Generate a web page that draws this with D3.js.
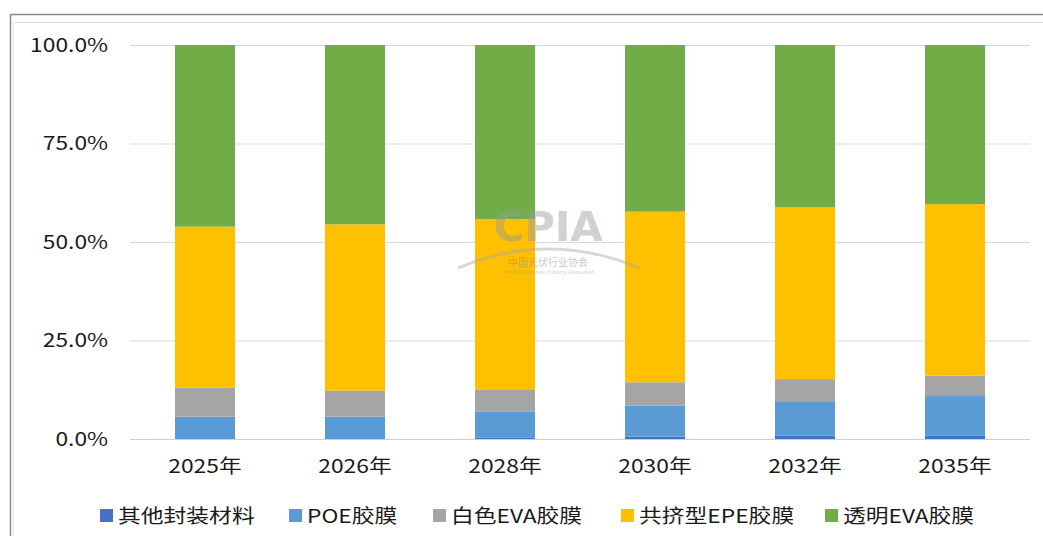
<!DOCTYPE html>
<html><head><meta charset="utf-8">
<script src="https://cdn.jsdelivr.net/npm/d3@7"></script>
<style>body{margin:0;background:#fff;}svg{display:block;}</style>
</head><body>
<script>
const categories = ["2025年","2026年","2028年","2030年","2032年","2035年"];
const seriesNames = ["其他封装材料","POE胶膜","白色EVA胶膜","共挤型EPE胶膜","透明EVA胶膜"];
const other       = [0.0, 0.0, 0.3, 0.6, 0.9, 0.8];
const poe         = [5.7, 5.7, 6.6, 7.9, 8.7, 10.1];
const whiteEva    = [7.3, 6.6, 5.7, 5.9, 5.6, 5.2];
const epe         = [40.9, 42.2, 43.2, 43.3, 43.6, 43.5];
const clearEva    = [46.1, 45.5, 44.2, 42.3, 41.2, 40.4];
const yTicks      = [0, 25, 50, 75, 100];
const colors      = ["#4472C4","#5B9BD5","#A5A5A5","#FFC000","#70AD47"];

const W = 1043, H = 536;
const margin = {left:130, right:13, top:45, bottom:97};
const SX = 1.2; // horizontal stretch of text as in the reference
const FONT = "'Noto Sans CJK SC','Noto Sans',sans-serif";
const svg = d3.select("body").append("svg").attr("width",W).attr("height",H);

// frame
svg.append("rect").attr("x",10.5).attr("y",14.5).attr("width",1100).attr("height",600)
  .attr("fill","none").attr("stroke","#8a8a8a").attr("stroke-width",1.5);
svg.append("line").attr("x1",13).attr("x2",W).attr("y1",22.5).attr("y2",22.5).attr("stroke","#dcdcdc");
svg.append("line").attr("x1",13.5).attr("x2",13.5).attr("y1",22).attr("y2",H).attr("stroke","#e4e4e4");

const x = d3.scaleBand().domain(categories).range([margin.left, W-margin.right]).paddingInner(0.6).paddingOuter(0.3);
const y = d3.scaleLinear().domain([0,100]).range([H-margin.bottom, margin.top]);

const rows = categories.map((c,i)=>({cat:c, s0:other[i], s1:poe[i], s2:whiteEva[i], s3:epe[i], s4:clearEva[i]}));
const stack = d3.stack().keys(["s0","s1","s2","s3","s4"])(rows);

// gridlines + y labels
const yAxis = d3.axisLeft(y).tickValues(yTicks).tickSize(-(W-margin.right-margin.left)).tickFormat(d=>d.toFixed(1)+"%");
const gy = svg.append("g").attr("transform",`translate(${margin.left},0)`).call(yAxis);
gy.select(".domain").remove();
gy.selectAll(".tick line").attr("stroke","#d9d9d9");
gy.selectAll(".tick text").attr("x",-22/SX).attr("fill","#1a1a1a")
  .style("font-family",FONT).style("font-size","19px")
  .attr("transform",`scale(${SX},1)`).attr("text-anchor","end");

svg.append("g").selectAll("g").data(stack).join("g").attr("fill",(d,i)=>colors[i])
  .selectAll("rect").data(d=>d).join("rect")
  .attr("x",d=>x(d.data.cat)).attr("width",x.bandwidth())
  .attr("y",d=>y(d[1])).attr("height",d=>y(d[0])-y(d[1]));

// baseline
svg.append("line").attr("x1",margin.left).attr("x2",W-margin.right).attr("y1",y(0)+0.5).attr("y2",y(0)+0.5).attr("stroke","#cfcfcf");

const xAxis = d3.axisBottom(x).tickSize(0).tickPadding(21);
const gx = svg.append("g").attr("transform",`translate(0,${y(0)})`).call(xAxis);
gx.select(".domain").remove();
gx.selectAll(".tick text").attr("fill","#1a1a1a").attr("transform",`scale(${SX},1)`)
  .style("font-family",FONT).style("font-size","19px");

// watermark
const wm = svg.append("g").attr("opacity",0.45).attr("pointer-events","none");
wm.append("text").attr("x",0).attr("y",0).attr("text-anchor","middle")
  .attr("transform","translate(548,241) scale(1.05,1)")
  .style("font-family","'DejaVu Sans',sans-serif").style("font-weight","bold").style("font-size","40px")
  .attr("fill","#9a9a9a").text("CPIA");
wm.append("path").attr("d","M458,268 Q548,230 640,268").attr("fill","none").attr("stroke","#a8a8a8").attr("stroke-width",3);
wm.append("text").attr("x",548).attr("y",266).attr("text-anchor","middle")
  .style("font-family",FONT).style("font-size","10px").attr("fill","#888").text("中国光伏行业协会");
wm.append("text").attr("x",548).attr("y",274).attr("text-anchor","middle")
  .style("font-family","'Noto Sans',sans-serif").style("font-size","5px").attr("fill","#999").text("China Photovoltaic Industry Association");

// legend
const legX = [100, 289, 433, 621, 825];
const lg = svg.append("g");
seriesNames.forEach((n,i)=>{
  const g = lg.append("g").attr("transform",`translate(${legX[i]},516)`);
  g.append("rect").attr("x",0).attr("y",-7).attr("width",13).attr("height",13).attr("fill",colors[i]);
  g.append("text").attr("x",0).attr("y",0).attr("dy","0.35em").attr("fill","#1a1a1a")
    .attr("transform",`translate(18,0) scale(${SX},1)`)
    .style("font-family",FONT).style("font-size","19px").text(n);
});
</script>
</body></html>
